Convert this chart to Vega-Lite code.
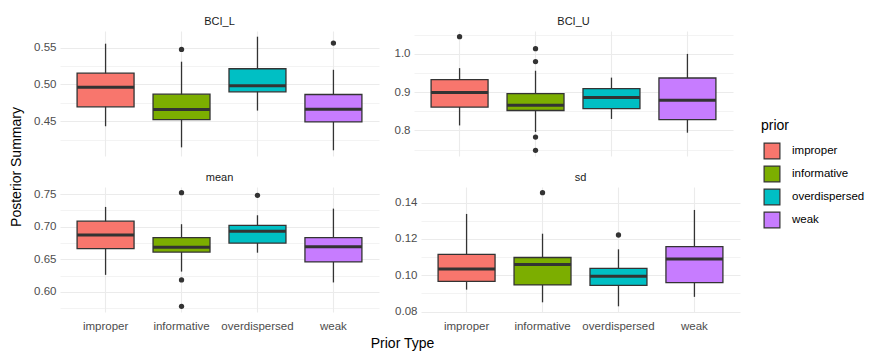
{
  "$schema": "https://vega.github.io/schema/vega-lite/v6.json",
  "background": "white",
  "padding": {"left": 9, "top": 16, "right": 5, "bottom": 3},
  "data": {
    "values": [
      {"stat": "BCI_L", "prior": "improper", "lo": 0.4432, "q1": 0.4696, "med": 0.4964, "q3": 0.5154, "hi": 0.5555},
      {"stat": "BCI_L", "prior": "informative", "lo": 0.4145, "q1": 0.4523, "med": 0.4659, "q3": 0.4868, "hi": 0.531},
      {"stat": "BCI_L", "prior": "overdispersed", "lo": 0.4645, "q1": 0.490, "med": 0.4982, "q3": 0.5214, "hi": 0.565},
      {"stat": "BCI_L", "prior": "weak", "lo": 0.4105, "q1": 0.4491, "med": 0.4664, "q3": 0.4864, "hi": 0.520},
      {"stat": "BCI_L", "prior": "informative", "out": 0.5477},
      {"stat": "BCI_L", "prior": "weak", "out": 0.5563},
      {"stat": "BCI_U", "prior": "improper", "lo": 0.813, "q1": 0.861, "med": 0.899, "q3": 0.933, "hi": 0.9628},
      {"stat": "BCI_U", "prior": "informative", "lo": 0.796, "q1": 0.852, "med": 0.866, "q3": 0.896, "hi": 0.956},
      {"stat": "BCI_U", "prior": "overdispersed", "lo": 0.830, "q1": 0.857, "med": 0.886, "q3": 0.909, "hi": 0.938},
      {"stat": "BCI_U", "prior": "weak", "lo": 0.794, "q1": 0.828, "med": 0.879, "q3": 0.937, "hi": 1.0},
      {"stat": "BCI_U", "prior": "improper", "out": 1.045},
      {"stat": "BCI_U", "prior": "informative", "out": 1.0138},
      {"stat": "BCI_U", "prior": "informative", "out": 0.980},
      {"stat": "BCI_U", "prior": "informative", "out": 0.7826},
      {"stat": "BCI_U", "prior": "informative", "out": 0.748},
      {"stat": "mean", "prior": "improper", "lo": 0.626, "q1": 0.6662, "med": 0.687, "q3": 0.7083, "hi": 0.7302},
      {"stat": "mean", "prior": "informative", "lo": 0.631, "q1": 0.661, "med": 0.6682, "q3": 0.683, "hi": 0.7037},
      {"stat": "mean", "prior": "overdispersed", "lo": 0.660, "q1": 0.6747, "med": 0.693, "q3": 0.702, "hi": 0.7174},
      {"stat": "mean", "prior": "weak", "lo": 0.6144, "q1": 0.6458, "med": 0.6692, "q3": 0.683, "hi": 0.7276},
      {"stat": "mean", "prior": "informative", "out": 0.752},
      {"stat": "mean", "prior": "informative", "out": 0.6183},
      {"stat": "mean", "prior": "informative", "out": 0.5778},
      {"stat": "mean", "prior": "overdispersed", "out": 0.748},
      {"stat": "sd", "prior": "improper", "lo": 0.0921, "q1": 0.0966, "med": 0.1035, "q3": 0.1115, "hi": 0.1338},
      {"stat": "sd", "prior": "informative", "lo": 0.0851, "q1": 0.0947, "med": 0.106, "q3": 0.1098, "hi": 0.1229},
      {"stat": "sd", "prior": "overdispersed", "lo": 0.0829, "q1": 0.0944, "med": 0.0995, "q3": 0.1038, "hi": 0.1143},
      {"stat": "sd", "prior": "weak", "lo": 0.0881, "q1": 0.0959, "med": 0.1089, "q3": 0.1158, "hi": 0.136},
      {"stat": "sd", "prior": "informative", "out": 0.1455},
      {"stat": "sd", "prior": "overdispersed", "out": 0.1222}
    ]
  },
  "facet": {
    "field": "stat",
    "type": "nominal",
    "sort": ["BCI_L", "BCI_U", "mean", "sd"],
    "title": "Posterior Summary",
    "header": {
      "titleOrient": "left",
      "titleAngle": -90,
      "titleFontSize": 14,
      "titleFontWeight": "normal",
      "titleColor": "#000000",
      "titleFont": "Liberation Sans",
      "titlePadding": -5,
      "labelOrient": "top",
      "labelFontSize": 11,
      "labelColor": "#1a1a1a",
      "labelFont": "Liberation Sans",
      "labelPadding": 4
    }
  },
  "columns": 2,
  "spacing": {"row": 16, "column": 15},
  "resolve": {"scale": {"y": "independent"}},
  "title": {
    "text": "Prior Type",
    "orient": "bottom",
    "anchor": "middle",
    "frame": "bounds",
    "fontSize": 14,
    "fontWeight": "normal",
    "color": "#000000",
    "font": "Liberation Sans",
    "offset": 5,
    "dx": -35
  },
  "spec": {
    "width": 319,
    "height": 125,
    "resolve": {"axis": {"y": "independent"}},
    "encoding": {
      "x": {
        "field": "prior",
        "type": "nominal",
        "sort": ["improper", "informative", "overdispersed", "weak"],
        "scale": {"paddingInner": 0, "paddingOuter": 0.1},
        "axis": {
          "title": null,
          "ticks": false,
          "domain": false,
          "grid": true,
          "bandPosition": 0.5,
          "gridColor": "#ebebeb",
          "gridWidth": 1.1,
          "labelAngle": 0,
          "labelColor": "#4d4d4d",
          "labelFontSize": 11.5,
          "labelFont": "Liberation Sans",
          "labelPadding": 2
        }
      }
    },
    "layer": [
      {
        "mark": {"type": "rule", "color": "#333333", "strokeWidth": 1.3},
        "encoding": {
          "y": {
            "field": "lo",
            "type": "quantitative",
            "scale": {"zero": false, "nice": false, "padding": 5.7},
            "axis": {
              "title": null,
              "orient": "left",
              "grid": true,
              "gridColor": "#ebebeb",
              "gridWidth": 1.1,
              "ticks": false,
              "domain": false,
              "tickCount": 4,
              "labelColor": "#4d4d4d",
              "labelFontSize": 11.5,
              "labelFont": "Liberation Sans",
              "labelPadding": 4
            }
          },
          "y2": {"field": "hi"}
        }
      },
      {
        "mark": {"type": "bar", "width": {"band": 0.75}, "stroke": "#333333", "strokeWidth": 1.3},
        "encoding": {
          "y": {
            "field": "q1",
            "type": "quantitative",
            "axis": {
              "title": null,
              "orient": "left",
              "grid": true,
              "gridColor": "#ebebeb",
              "gridWidth": 0.6,
              "labels": false,
              "ticks": false,
              "domain": false,
              "values": [0.425, 0.475, 0.525, 0.75, 0.85, 0.95, 1.05, 0.575, 0.625, 0.675, 0.725, 0.09, 0.11, 0.13]
            }
          },
          "y2": {"field": "q3"},
          "fill": {
            "field": "prior",
            "type": "nominal",
            "sort": ["improper", "informative", "overdispersed", "weak"],
            "scale": {"range": ["#F8766D", "#7CAE00", "#00BFC4", "#C77CFF"]},
            "legend": {
              "title": "prior",
              "orient": "none",
              "legendX": 701,
              "legendY": 88,
              "titleFontSize": 14,
              "titleFontWeight": "normal",
              "titleColor": "#000000",
              "titleFont": "Liberation Sans",
              "titlePadding": 9,
              "labelFontSize": 11.5,
              "labelColor": "#000000",
              "labelFont": "Liberation Sans",
              "symbolType": "square",
              "symbolSize": 250,
              "symbolOffset": 2,
              "symbolStrokeColor": "#333333",
              "symbolStrokeWidth": 1.2,
              "symbolOpacity": 1,
              "rowPadding": 1,
              "labelOffset": 11
            }
          }
        }
      },
      {
        "mark": {"type": "tick", "color": "#333333", "thickness": 3, "size": 57, "opacity": 1},
        "encoding": {
          "y": {"field": "med", "type": "quantitative", "axis": null}
        }
      },
      {
        "mark": {"type": "point", "filled": true, "color": "#333333", "size": 28, "opacity": 1},
        "encoding": {
          "y": {"field": "out", "type": "quantitative", "axis": null}
        }
      }
    ]
  },
  "config": {
    "view": {"stroke": null},
    "font": "Liberation Sans"
  }
}
